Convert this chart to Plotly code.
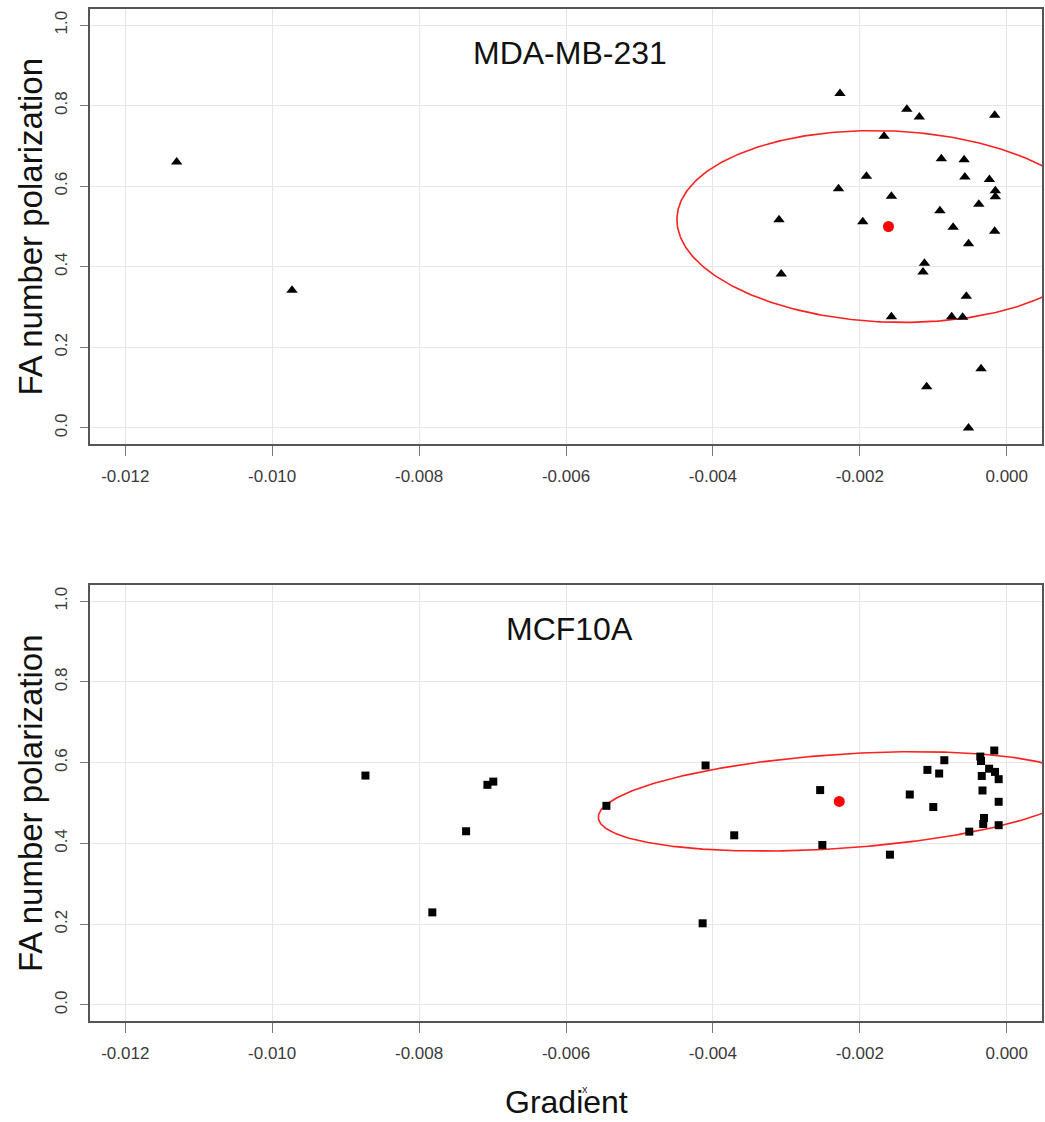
import numpy as np
import plotly.graph_objects as go

# ---------------- data ----------------
mda_x = [-0.0113, -0.00973, -0.00227, -0.00136, -0.00119, -0.000164, -0.00167,
         -0.00089, -0.00058, -0.00191, -0.00057, -0.000236, -0.00229, -0.000155,
         -0.000155, -0.00157, -0.00038, -0.00091, -0.0031, -0.00196, -0.00073,
         -0.000164, -0.00052, -0.00112, -0.00114, -0.00307, -0.00055, -0.00157,
         -0.00075, -0.0006, -0.00035, -0.00109, -0.00052]
mda_y = [0.660, 0.342, 0.830, 0.791, 0.772, 0.776, 0.724,
         0.668, 0.666, 0.625, 0.623, 0.617, 0.594, 0.589,
         0.574, 0.575, 0.555, 0.539, 0.517, 0.512, 0.498,
         0.488, 0.457, 0.409, 0.387, 0.382, 0.327, 0.276,
         0.276, 0.275, 0.147, 0.102, 0.000]
mda_mean = (-0.00161, 0.500)
# ellipse: x = cx + A cos t ; y = cy + B cos t + C sin t
mda_ellipse = dict(A=0.00288, B=-0.017, C=0.2375)

mcf_x = [-0.00873, -0.00782, -0.00736, -0.00707, -0.00699, -0.00545, -0.0041,
         -0.00414, -0.00371, -0.00254, -0.00251, -0.00159, -0.00132, -0.00108,
         -0.00092, -0.00085, -0.0010, -0.00017, -0.00036, -0.00035, -0.00024,
         -0.00016, -0.00011, -0.00034, -0.00033, -0.00011, -0.00031, -0.00032,
         -0.00051, -0.00011]
mcf_y = [0.568, 0.229, 0.430, 0.545, 0.553, 0.493, 0.593,
         0.202, 0.420, 0.532, 0.396, 0.372, 0.521, 0.582,
         0.573, 0.606, 0.490, 0.630, 0.615, 0.604, 0.585,
         0.577, 0.559, 0.567, 0.531, 0.503, 0.463, 0.448,
         0.429, 0.445]
mcf_mean = (-0.00228, 0.504)
mcf_ellipse = dict(A=0.00328, B=0.039, C=0.1167)

x_tickvals = [-0.012, -0.010, -0.008, -0.006, -0.004, -0.002, 0.000]
x_ticktext = ["-0.012", "-0.010", "-0.008", "-0.006", "-0.004", "-0.002", "0.000"]
y_tickvals = [0.0, 0.2, 0.4, 0.6, 0.8, 1.0]
y_ticktext = ["0.0", "0.2", "0.4", "0.6", "0.8", "1.0"]

panel_titles = ["MDA-MB-231", "MCF10A"]
y_title = "FA number polarization"
x_title = "Gradient"

# ---------------- figure ----------------
FONT = "Liberation Sans, Arial, sans-serif"
W, H = 1045, 1122
mt, mb, ml, mr = 9, 101, 90, 1
ph = H - mt - mb

def ellipse(center, p):
    t = np.linspace(0, 2 * np.pi, 400)
    cx, cy = center
    return cx + p["A"] * np.cos(t), cy + p["B"] * np.cos(t) + p["C"] * np.sin(t)

fig = go.Figure()

ex, ey = ellipse(mda_mean, mda_ellipse)
fig.add_trace(go.Scatter(x=ex, y=ey, mode="lines", line=dict(color="#ff2020", width=1.6),
                         xaxis="x", yaxis="y", hoverinfo="skip"))
fig.add_trace(go.Scatter(x=mda_x, y=mda_y, mode="markers",
                         marker=dict(symbol="triangle-up", size=10, color="black"),
                         xaxis="x", yaxis="y"))
fig.add_trace(go.Scatter(x=[mda_mean[0]], y=[mda_mean[1]], mode="markers",
                         marker=dict(symbol="circle", size=11, color="#ff0000"),
                         xaxis="x", yaxis="y"))

ex, ey = ellipse(mcf_mean, mcf_ellipse)
fig.add_trace(go.Scatter(x=ex, y=ey, mode="lines", line=dict(color="#ff2020", width=1.6),
                         xaxis="x2", yaxis="y2", hoverinfo="skip"))
fig.add_trace(go.Scatter(x=mcf_x, y=mcf_y, mode="markers",
                         marker=dict(symbol="square", size=8, color="black"),
                         xaxis="x2", yaxis="y2"))
fig.add_trace(go.Scatter(x=[mcf_mean[0]], y=[mcf_mean[1]], mode="markers",
                         marker=dict(symbol="circle", size=11, color="#ff0000"),
                         xaxis="x2", yaxis="y2"))

top_dom = [(1021 - 444) / ph, 1.0]
bot_dom = [0.0, (1021 - 585) / ph]

def xaxis(dom_anchor):
    return dict(range=[-0.01248, 0.00048], tickvals=x_tickvals, ticktext=x_ticktext,
                showgrid=True, gridcolor="#e6e6e6", gridwidth=1, zeroline=False,
                showline=True, mirror=True, linecolor="#555555", linewidth=1.5,
                ticks="outside", ticklen=10, tickwidth=1, tickcolor="#777777",
                ticklabelstandoff=6,
                tickfont=dict(family=FONT, size=17, color="#3a3a3a"),
                anchor=dom_anchor)

def yaxis(domain, anchor):
    return dict(range=[-0.04, 1.04], domain=domain, tickvals=y_tickvals, ticktext=y_ticktext,
                showgrid=True, gridcolor="#e6e6e6", gridwidth=1, zeroline=False,
                showline=True, mirror=True, linecolor="#555555", linewidth=1.5,
                ticks="outside", ticklen=8, tickwidth=1, tickcolor="#777777",
                tickangle=-90, ticklabelstandoff=6,
                tickfont=dict(family=FONT, size=17, color="#3a3a3a"),
                anchor=anchor)

annotations = []
for title, xr, yr in [(panel_titles[0], "x", "y"), (panel_titles[1], "x2", "y2")]:
    annotations.append(dict(text=title, x=-0.00595, y=0.93, xref=xr, yref=yr,
                            showarrow=False, xanchor="center", yanchor="middle",
                            font=dict(family=FONT, size=32, color="#111111")))
for dom in (top_dom, bot_dom):
    annotations.append(dict(text=y_title, x=0, y=(dom[0] + dom[1]) / 2, xref="paper", yref="paper",
                            xanchor="center", yanchor="middle", xshift=-60, textangle=-90,
                            showarrow=False, font=dict(family=FONT, size=33, color="#111111")))
annotations.append(dict(text=x_title, x=0.5, y=(1021 - 1102) / ph, xref="paper", yref="paper",
                        xanchor="center", yanchor="middle", showarrow=False,
                        font=dict(family=FONT, size=32, color="#111111")))
annotations.append(dict(text="x", x=(586 - ml) / (W - ml - mr), y=(1021 - 1089) / ph,
                        xref="paper", yref="paper", xanchor="center", yanchor="middle",
                        showarrow=False, font=dict(family=FONT, size=11, color="#333333")))

fig.update_layout(
    width=W, height=H, margin=dict(l=ml, r=mr, t=mt, b=mb),
    paper_bgcolor="white", plot_bgcolor="white", showlegend=False,
    xaxis=xaxis("y"), yaxis=yaxis(top_dom, "x"),
    xaxis2=xaxis("y2"), yaxis2=yaxis(bot_dom, "x2"),
    annotations=annotations,
)

fig.write_html("out.html")
